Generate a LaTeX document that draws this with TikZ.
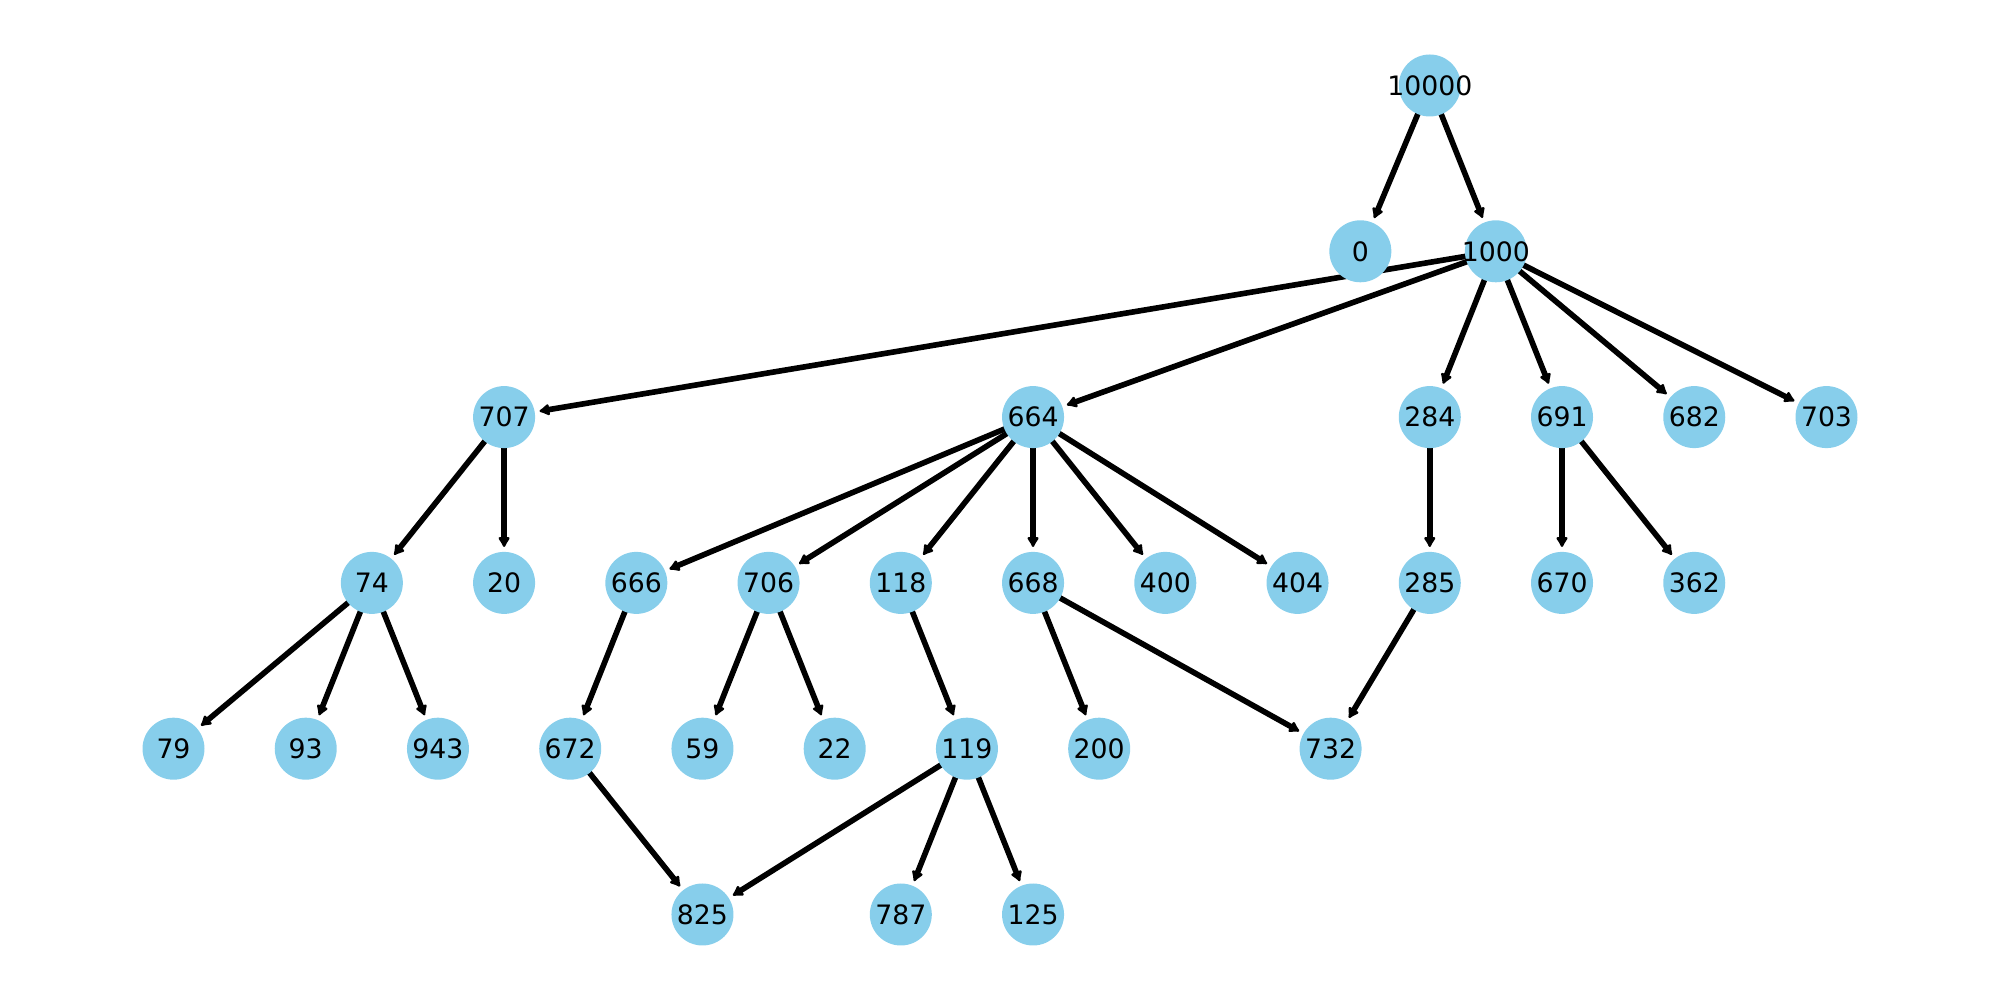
\documentclass[tikz,border=0pt]{standalone}
\usepackage{fontspec}
\setmainfont{DejaVu Sans}
\usetikzlibrary{arrows.meta,backgrounds}
\definecolor{skyblue}{RGB}{135,206,235}
\tikzset{
  vtx/.style={circle, fill=skyblue, minimum size=0.62cm, inner sep=0pt,
    font=\fontsize{7.6pt}{9pt}\selectfont},
  edge/.style={line width=1.6pt, shorten >=1.2pt,
    -{Latex[length=3.4pt,width=4pt,round]}}
}
\newcommand{\vl}[1]{\makebox[0pt]{#1}}
\begin{document}
\begin{tikzpicture}
\useasboundingbox (0,0) rectangle (20,-10);
\begin{scope}[shift={(1.735,-0.855)}, x=0.6612cm, y=-1.658cm]
  % level 0
  \node[vtx] (n10000) at (19,0) {\vl{10000}};
  % level 1
  \node[vtx] (n0)    at (17.95,1) {\vl{0}};
  \node[vtx] (n1000) at (20,1) {\vl{1000}};
  % level 2
  \node[vtx] (n707) at (5,2)  {\vl{707}};
  \node[vtx] (n664) at (13,2) {\vl{664}};
  \node[vtx] (n284) at (19,2) {\vl{284}};
  \node[vtx] (n691) at (21,2) {\vl{691}};
  \node[vtx] (n682) at (23,2) {\vl{682}};
  \node[vtx] (n703) at (25,2) {\vl{703}};
  % level 3
  \node[vtx] (n74)  at (3,3)  {\vl{74}};
  \node[vtx] (n20)  at (5,3)  {\vl{20}};
  \node[vtx] (n666) at (7,3)  {\vl{666}};
  \node[vtx] (n706) at (9,3)  {\vl{706}};
  \node[vtx] (n118) at (11,3) {\vl{118}};
  \node[vtx] (n668) at (13,3) {\vl{668}};
  \node[vtx] (n400) at (15,3) {\vl{400}};
  \node[vtx] (n404) at (17,3) {\vl{404}};
  \node[vtx] (n285) at (19,3) {\vl{285}};
  \node[vtx] (n670) at (21,3) {\vl{670}};
  \node[vtx] (n362) at (23,3) {\vl{362}};
  % level 4
  \node[vtx] (n79)  at (0,4)    {\vl{79}};
  \node[vtx] (n93)  at (2,4)    {\vl{93}};
  \node[vtx] (n943) at (4,4)    {\vl{943}};
  \node[vtx] (n672) at (6,4)    {\vl{672}};
  \node[vtx] (n59)  at (8,4)    {\vl{59}};
  \node[vtx] (n22)  at (10,4)   {\vl{22}};
  \node[vtx] (n119) at (12,4)   {\vl{119}};
  \node[vtx] (n200) at (14,4)   {\vl{200}};
  \node[vtx] (n732) at (17.5,4) {\vl{732}};
  % level 5
  \node[vtx] (n825) at (8,5)  {\vl{825}};
  \node[vtx] (n787) at (11,5) {\vl{787}};
  \node[vtx] (n125) at (13,5) {\vl{125}};
\end{scope}
\begin{scope}[on background layer]
  \draw[edge] (n10000.center) -- (n0);
  \draw[edge] (n10000.center) -- (n1000);
  \draw[edge] (n1000.center) -- (n707);
  \draw[edge] (n1000.center) -- (n664);
  \draw[edge] (n1000.center) -- (n284);
  \draw[edge] (n1000.center) -- (n691);
  \draw[edge] (n1000.center) -- (n682);
  \draw[edge] (n1000.center) -- (n703);
  \draw[edge] (n707.center) -- (n74);
  \draw[edge] (n707.center) -- (n20);
  \draw[edge] (n664.center) -- (n666);
  \draw[edge] (n664.center) -- (n706);
  \draw[edge] (n664.center) -- (n118);
  \draw[edge] (n664.center) -- (n668);
  \draw[edge] (n664.center) -- (n400);
  \draw[edge] (n664.center) -- (n404);
  \draw[edge] (n284.center) -- (n285);
  \draw[edge] (n691.center) -- (n670);
  \draw[edge] (n691.center) -- (n362);
  \draw[edge] (n74.center) -- (n79);
  \draw[edge] (n74.center) -- (n93);
  \draw[edge] (n74.center) -- (n943);
  \draw[edge] (n666.center) -- (n672);
  \draw[edge] (n706.center) -- (n59);
  \draw[edge] (n706.center) -- (n22);
  \draw[edge] (n118.center) -- (n119);
  \draw[edge] (n668.center) -- (n200);
  \draw[edge] (n668.center) -- (n732);
  \draw[edge] (n285.center) -- (n732);
  \draw[edge] (n672.center) -- (n825);
  \draw[edge] (n119.center) -- (n825);
  \draw[edge] (n119.center) -- (n787);
  \draw[edge] (n119.center) -- (n125);
\end{scope}
\end{tikzpicture}
\end{document}
